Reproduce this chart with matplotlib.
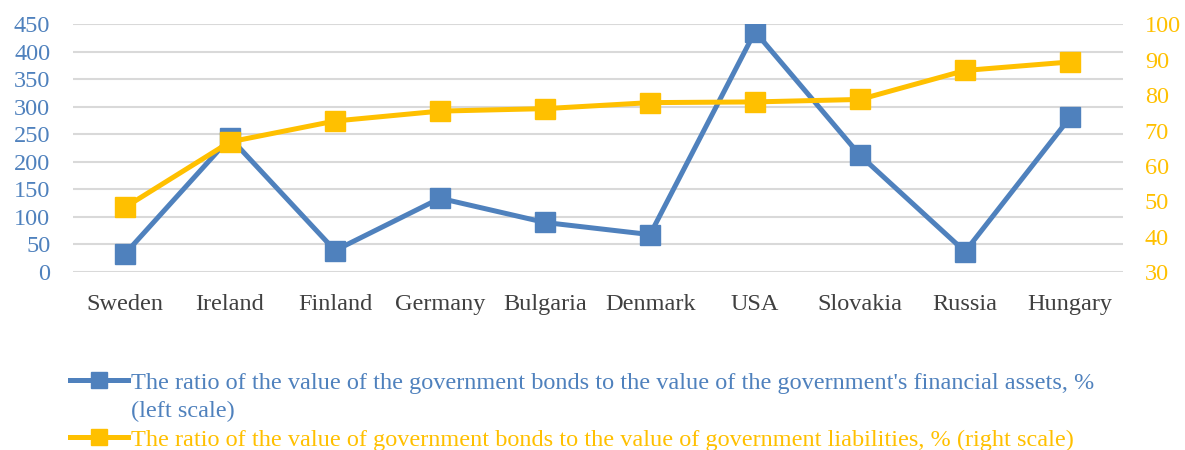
import matplotlib
matplotlib.use('Agg')
import matplotlib.pyplot as plt
from matplotlib.lines import Line2D

# data
countries = ['Sweden', 'Ireland', 'Finland', 'Germany', 'Bulgaria',
             'Denmark', 'USA', 'Slovakia', 'Russia', 'Hungary']
bonds_to_assets = [33, 244, 39, 134, 90, 68, 437, 212, 37, 281]
bonds_to_liabilities = [48.3, 66.8, 72.7, 75.5, 76.2, 77.9, 78.1, 78.8, 87.0, 89.4]

label_left = ("The ratio of the value of the government bonds to the value of the "
              "government's financial assets, %")
label_left_2 = "(left scale)"
label_right = ("The ratio of the value of government bonds to the value of "
               "government liabilities, % (right scale)")

BLUE = '#4F81BD'
YELLOW = '#FFC000'
GRID = '#D9D9D9'
TEXT = '#404040'

plt.rcParams['font.family'] = ['Liberation Serif', 'DejaVu Serif']
plt.rcParams['font.size'] = 17.5

fig = plt.figure(figsize=(11.85, 4.5), dpi=100)
ax = fig.add_axes([0.0612, 0.3956, 0.8861, 0.55])
ax2 = ax.twinx()

x = list(range(len(countries)))

# yellow series (right axis) sits on top, as in the source
l1, = ax.plot(x, bonds_to_assets, color=BLUE, lw=3.6, marker='s', ms=14,
              zorder=3)
l2, = ax2.plot(x, bonds_to_liabilities, color=YELLOW, lw=3.6, marker='s', ms=14,
               zorder=3)

ax.set_xlim(-0.5, len(countries) - 0.5)
ax.set_ylim(0, 450)
ax.set_yticks(range(0, 451, 50))
ax2.set_ylim(30, 100)
ax2.set_yticks(range(30, 101, 10))

ax.set_xticks(x)
ax.set_xticklabels(countries, color=TEXT)
ax.yaxis.grid(True, color=GRID, lw=1.5)
ax.set_axisbelow(True)

ax.tick_params(axis='x', length=0, pad=16)
ax.tick_params(axis='y', length=0, pad=16, labelcolor=BLUE)
ax2.tick_params(axis='y', length=0, pad=16, labelcolor=YELLOW)

for a in (ax, ax2):
    for s in a.spines.values():
        s.set_visible(False)

blank = Line2D([], [], color='none')
leg = fig.legend(handles=[l1, blank, l2],
                 labels=[label_left, label_left_2, label_right],
                 loc='upper left', bbox_to_anchor=(0.059, 0.174), frameon=False,
                 borderpad=0, handlelength=2.4, handletextpad=0.1,
                 labelspacing=0.27, borderaxespad=0, markerscale=0.85)
for txt, col in zip(leg.get_texts(), (BLUE, BLUE, YELLOW)):
    txt.set_color(col)

fig.savefig('out.png', dpi=100)
